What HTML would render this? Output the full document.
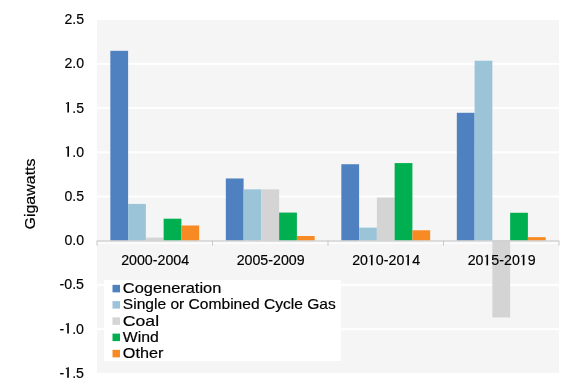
<!DOCTYPE html>
<html><head><meta charset="utf-8"><style>
html,body{margin:0;padding:0;background:#fff;width:580px;height:392px;overflow:hidden}
svg{display:block;will-change:transform}
.t{font-family:"Liberation Sans",sans-serif;font-size:14px;fill:#000;stroke:#000;stroke-width:0.18px}
</style></head><body>
<svg width="580" height="392" viewBox="0 0 580 392">
<rect x="97" y="20" width="462" height="353" fill="#f5f5f5"/>
<rect x="97" y="62.90" width="462" height="2" fill="#ffffff"/>
<rect x="97" y="107.10" width="462" height="2" fill="#ffffff"/>
<rect x="97" y="151.30" width="462" height="2" fill="#ffffff"/>
<rect x="97" y="195.50" width="462" height="2" fill="#ffffff"/>
<rect x="97" y="283.90" width="462" height="2" fill="#ffffff"/>
<rect x="97" y="328.10" width="462" height="2" fill="#ffffff"/>
<rect x="97" y="242.50" width="462" height="1.5" fill="#ffffff" opacity="0.8"/>
<rect x="110.33" y="50.82" width="17.77" height="189.88" fill="#4f81c0"/>
<rect x="128.10" y="203.93" width="17.77" height="36.77" fill="#9bc4d9"/>
<rect x="145.87" y="237.61" width="17.77" height="3.09" fill="#d4d4d4"/>
<rect x="163.63" y="218.69" width="17.77" height="22.01" fill="#00b050"/>
<rect x="181.40" y="225.50" width="17.77" height="15.20" fill="#f88a24"/>
<rect x="225.83" y="178.47" width="17.77" height="62.23" fill="#4f81c0"/>
<rect x="243.60" y="189.34" width="17.77" height="51.36" fill="#9bc4d9"/>
<rect x="261.37" y="189.34" width="17.77" height="51.36" fill="#d4d4d4"/>
<rect x="279.13" y="212.59" width="17.77" height="28.11" fill="#00b050"/>
<rect x="296.90" y="236.01" width="17.77" height="4.69" fill="#f88a24"/>
<rect x="341.33" y="164.23" width="17.77" height="76.47" fill="#4f81c0"/>
<rect x="359.10" y="227.62" width="17.77" height="13.08" fill="#9bc4d9"/>
<rect x="376.87" y="197.56" width="17.77" height="43.14" fill="#d4d4d4"/>
<rect x="394.63" y="163.08" width="17.77" height="77.62" fill="#00b050"/>
<rect x="412.40" y="230.27" width="17.77" height="10.43" fill="#f88a24"/>
<rect x="456.83" y="112.79" width="17.77" height="127.91" fill="#4f81c0"/>
<rect x="474.60" y="60.72" width="17.77" height="179.98" fill="#9bc4d9"/>
<rect x="492.37" y="240.20" width="17.77" height="77.23" fill="#d4d4d4"/>
<rect x="510.13" y="212.77" width="17.77" height="27.93" fill="#00b050"/>
<rect x="527.90" y="237.16" width="17.77" height="3.54" fill="#f88a24"/>
<rect x="97" y="240.30" width="462" height="1.3" fill="#d0d0d0"/>
<rect x="96.50" y="240.70" width="1" height="5" fill="#c8c8c8"/>
<rect x="212.00" y="240.70" width="1" height="5" fill="#c8c8c8"/>
<rect x="327.50" y="240.70" width="1" height="5" fill="#c8c8c8"/>
<rect x="443.00" y="240.70" width="1" height="5" fill="#c8c8c8"/>
<rect x="558.50" y="240.70" width="1" height="5" fill="#c8c8c8"/>
<text x="84" y="24.10" text-anchor="end" class="t" style="font-size:15.0px" textLength="19.6" lengthAdjust="spacingAndGlyphs">2.5</text>
<text x="84" y="68.30" text-anchor="end" class="t" style="font-size:15.0px" textLength="19.6" lengthAdjust="spacingAndGlyphs">2.0</text>
<text x="84" y="112.50" text-anchor="end" class="t" style="font-size:15.0px" textLength="19.6" lengthAdjust="spacingAndGlyphs"> .5</text>
<text x="84" y="156.70" text-anchor="end" class="t" style="font-size:15.0px" textLength="19.6" lengthAdjust="spacingAndGlyphs"> .0</text>
<text x="84" y="200.90" text-anchor="end" class="t" style="font-size:15.0px" textLength="19.6" lengthAdjust="spacingAndGlyphs">0.5</text>
<text x="84" y="245.10" text-anchor="end" class="t" style="font-size:15.0px" textLength="19.6" lengthAdjust="spacingAndGlyphs">0.0</text>
<text x="84" y="289.30" text-anchor="end" class="t" style="font-size:15.0px" textLength="24.5" lengthAdjust="spacingAndGlyphs">-0.5</text>
<text x="84" y="333.50" text-anchor="end" class="t" style="font-size:15.0px" textLength="24.5" lengthAdjust="spacingAndGlyphs">- .0</text>
<text x="84" y="377.70" text-anchor="end" class="t" style="font-size:15.0px" textLength="24.5" lengthAdjust="spacingAndGlyphs">- .5</text>
<text x="155.15" y="265.2" text-anchor="middle" class="t" style="font-size:14.8px" textLength="68" lengthAdjust="spacingAndGlyphs">2000-2004</text>
<text x="270.65" y="265.2" text-anchor="middle" class="t" style="font-size:14.8px" textLength="68" lengthAdjust="spacingAndGlyphs">2005-2009</text>
<text x="386.15" y="265.2" text-anchor="middle" class="t" style="font-size:14.8px" textLength="68" lengthAdjust="spacingAndGlyphs">20 0-20 4</text>
<text x="501.65" y="265.2" text-anchor="middle" class="t" style="font-size:14.8px" textLength="68" lengthAdjust="spacingAndGlyphs">20 5-20 9</text>
<rect x="104" y="280" width="237" height="81" fill="#ffffff"/>
<rect x="112.5" y="284.85" width="7.5" height="7.5" fill="#4f81c0"/>
<text x="122.8" y="293.10" class="t" style="font-size:14.5px" textLength="98.5" lengthAdjust="spacingAndGlyphs">Cogeneration</text>
<rect x="112.5" y="301.10" width="7.5" height="7.5" fill="#9bc4d9"/>
<text x="122.8" y="309.35" class="t" style="font-size:14.5px" textLength="213" lengthAdjust="spacingAndGlyphs">Single or Combined Cycle Gas</text>
<rect x="112.5" y="317.35" width="7.5" height="7.5" fill="#d4d4d4"/>
<text x="122.8" y="325.60" class="t" style="font-size:14.5px" textLength="36.3" lengthAdjust="spacingAndGlyphs">Coal</text>
<rect x="112.5" y="333.60" width="7.5" height="7.5" fill="#00b050"/>
<text x="122.8" y="341.85" class="t" style="font-size:14.5px" textLength="36" lengthAdjust="spacingAndGlyphs">Wind</text>
<rect x="112.5" y="349.85" width="7.5" height="7.5" fill="#f88a24"/>
<text x="122.8" y="358.10" class="t" style="font-size:14.5px" textLength="40.5" lengthAdjust="spacingAndGlyphs">Other</text>
<text transform="translate(35.3,158.5) rotate(-90)" x="-71" class="t" style="font-size:15.2px" textLength="71" lengthAdjust="spacingAndGlyphs">Gigawatts</text>
<path d="M67.36,112.50 L68.98,112.50 L68.98,101.95 L67.36,101.95 Z M67.36,101.95 L68.12,101.95 L66.33,104.30 L65.71,103.56 Z" fill="#000"/>
<path d="M67.36,156.70 L68.98,156.70 L68.98,146.15 L67.36,146.15 Z M67.36,146.15 L68.12,146.15 L66.33,148.50 L65.71,147.76 Z" fill="#000"/>
<path d="M67.21,333.50 L68.85,333.50 L68.85,322.95 L67.21,322.95 Z M67.21,322.95 L67.98,322.95 L66.17,325.30 L65.54,324.56 Z" fill="#000"/>
<path d="M67.21,377.70 L68.85,377.70 L68.85,367.15 L67.21,367.15 Z M67.21,367.15 L67.98,367.15 L66.17,369.50 L65.54,368.76 Z" fill="#000"/>
<path d="M370.95,265.20 L372.59,265.20 L372.59,254.79 L370.95,254.79 Z M370.95,254.79 L371.72,254.79 L369.91,257.11 L369.28,256.38 Z" fill="#000"/>
<path d="M407.32,265.20 L408.95,265.20 L408.95,254.79 L407.32,254.79 Z M407.32,254.79 L408.08,254.79 L406.27,257.11 L405.65,256.38 Z" fill="#000"/>
<path d="M486.45,265.20 L488.09,265.20 L488.09,254.79 L486.45,254.79 Z M486.45,254.79 L487.22,254.79 L485.41,257.11 L484.78,256.38 Z" fill="#000"/>
<path d="M522.82,265.20 L524.45,265.20 L524.45,254.79 L522.82,254.79 Z M522.82,254.79 L523.58,254.79 L521.77,257.11 L521.15,256.38 Z" fill="#000"/>
</svg>
</body></html>
